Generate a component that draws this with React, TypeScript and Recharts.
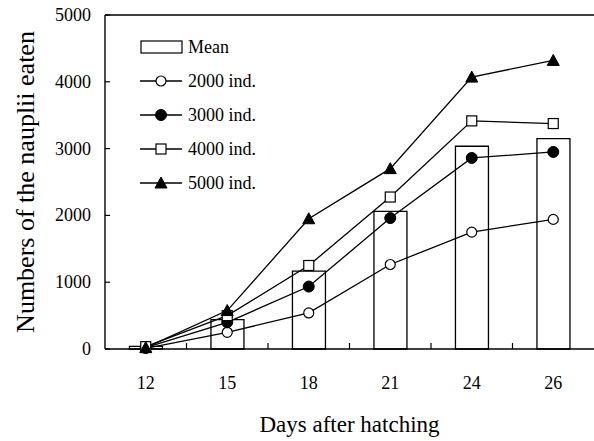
import React from "react";
import { Bar, ComposedChart, Legend, Line, ReferenceLine, XAxis, YAxis } from "recharts";

// Days after hatching (categories)
const days = ["12", "15", "18", "21", "24", "26"];
// mean number of nauplii eaten (bars)
const meanEaten = [40, 440, 1165, 2060, 3035, 3150];
// per prey density series
const ind2000 = [10, 250, 540, 1265, 1750, 1940];
const ind3000 = [20, 400, 935, 1960, 2860, 2950];
const ind4000 = [35, 500, 1250, 2275, 3415, 3375];
const ind5000 = [20, 575, 1950, 2700, 4070, 4320];
const yTicks = [0, 1000, 2000, 3000, 4000, 5000];

const data = days.map((d, i) => ({
    day: d,
    mean: meanEaten[i],
    s2000: ind2000[i],
    s3000: ind3000[i],
    s4000: ind4000[i],
    s5000: ind5000[i],
}));

const FONT = "'Liberation Serif', 'Times New Roman', serif";
const INK = "#000";
const CHART_W = 594;
const Y_AXIS_W = 105;
const BAND = (CHART_W - Y_AXIS_W) / days.length;

// marker shapes used both for the series and in the legend
function Marker({ kind, cx, cy }: { kind: string; cx: number; cy: number }) {
    if (kind === "openCircle")
        return <circle cx={cx} cy={cy} r={5} fill="#fff" stroke={INK} strokeWidth={1.2} />;
    if (kind === "dot")
        return <circle cx={cx} cy={cy} r={5.5} fill={INK} stroke={INK} strokeWidth={1} />;
    if (kind === "square")
        return <rect x={cx - 5} y={cy - 5} width={10} height={10} fill="#fff" stroke={INK} strokeWidth={1.2} />;
    return (
        <polygon
            points={`${cx},${cy - 6} ${cx + 6},${cy + 5} ${cx - 6},${cy + 5}`}
            fill={INK}
            stroke={INK}
            strokeWidth={1}
        />
    );
}

const seriesDefs = [
    { key: "s2000", name: "2000 ind.", kind: "openCircle" },
    { key: "s3000", name: "3000 ind.", kind: "dot" },
    { key: "s4000", name: "4000 ind.", kind: "square" },
    { key: "s5000", name: "5000 ind.", kind: "triangle" },
];

const LegendBox = () => (
    <div style={{ fontFamily: FONT, fontSize: 18, color: INK, lineHeight: "34px" }}>
        <div style={{ display: "flex", alignItems: "center", height: 34 }}>
            <svg width={48} height={14}>
                <rect x={1} y={1} width={41} height={12} fill="#fff" stroke={INK} strokeWidth={1.2} />
            </svg>
            <span>Mean</span>
        </div>
        {seriesDefs.map((s) => (
            <div key={s.key} style={{ display: "flex", alignItems: "center", height: 34 }}>
                <svg width={48} height={14}>
                    <line x1={0} x2={42} y1={7} y2={7} stroke={INK} strokeWidth={1.3} />
                    <Marker kind={s.kind} cx={21} cy={7} />
                </svg>
                <span>{s.name}</span>
            </div>
        ))}
    </div>
);

const YTick = ({ x, y, payload }: any) => (
    <g>
        <line x1={x} x2={x + 5} y1={y} y2={y} stroke={INK} strokeWidth={1.2} />
        <text x={x - 14} y={y} dy={6} textAnchor="end" fontFamily={FONT} fontSize={18} fill={INK}>
            {payload.value}
        </text>
    </g>
);

// label under the category plus an inward tick mark on the boundary to its right
const XTick = ({ x, y, payload, index }: any) => (
    <g>
        {index < days.length - 1 && (
            <line x1={x + BAND / 2} x2={x + BAND / 2} y1={y} y2={y - 6} stroke={INK} strokeWidth={1.2} />
        )}
        <text x={x} y={y} dy={40} textAnchor="middle" fontFamily={FONT} fontSize={18} fill={INK}>
            {payload.value}
        </text>
    </g>
);

const YTitle = ({ viewBox }: any) => {
    const cy = viewBox.y + viewBox.height / 2;
    return (
        <text
            x={25}
            y={cy}
            transform={`rotate(-90, 25, ${cy})`}
            textAnchor="middle"
            dominantBaseline="central"
            fontFamily={FONT}
            fontSize={26}
            fill={INK}
        >
            Numbers of the nauplii eaten
        </text>
    );
};

const XTitle = ({ viewBox }: any) => (
    <text
        x={viewBox.x + viewBox.width / 2}
        y={432}
        textAnchor="middle"
        fontFamily={FONT}
        fontSize={23}
        fill={INK}
    >
        Days after hatching
    </text>
);

export default function App() {
    return (
        <div style={{ position: "absolute", left: 0, top: 0, background: "#fff" }}>
            <ComposedChart
                width={CHART_W}
                height={441}
                data={data}
                margin={{ top: 15, right: 0, bottom: 0, left: 0 }}
                barCategoryGap="30%"
            >
                <XAxis
                    dataKey="day"
                    height={92}
                    stroke={INK}
                    axisLine={{ stroke: INK, strokeWidth: 1.4 }}
                    tickLine={false}
                    tickSize={0}
                    tickMargin={0}
                    tick={<XTick />}
                    label={<XTitle />}
                />
                <YAxis
                    domain={[0, 5000]}
                    ticks={yTicks}
                    width={Y_AXIS_W}
                    axisLine={{ stroke: INK, strokeWidth: 1.4 }}
                    tickLine={false}
                    tickSize={0}
                    tickMargin={0}
                    tick={<YTick />}
                    label={<YTitle />}
                />
                <ReferenceLine y={5000} stroke={INK} strokeWidth={1.4} />
                <Legend
                    layout="horizontal"
                    verticalAlign="middle"
                    align="center"
                    content={<LegendBox />}
                    wrapperStyle={{ left: 140, top: 30, width: 160 }}
                />
                <Bar
                    dataKey="mean"
                    name="Mean"
                    fill="#fff"
                    stroke={INK}
                    strokeWidth={1.3}
                    isAnimationActive={false}
                />
                {seriesDefs.map((s) => (
                    <Line
                        key={s.key}
                        dataKey={s.key}
                        name={s.name}
                        type="linear"
                        stroke={INK}
                        strokeWidth={1.3}
                        isAnimationActive={false}
                        dot={(p: any) => <Marker key={`${s.key}-${p.index}`} kind={s.kind} cx={p.cx} cy={p.cy} />}
                        activeDot={false}
                    />
                ))}
            </ComposedChart>
        </div>
    );
}
